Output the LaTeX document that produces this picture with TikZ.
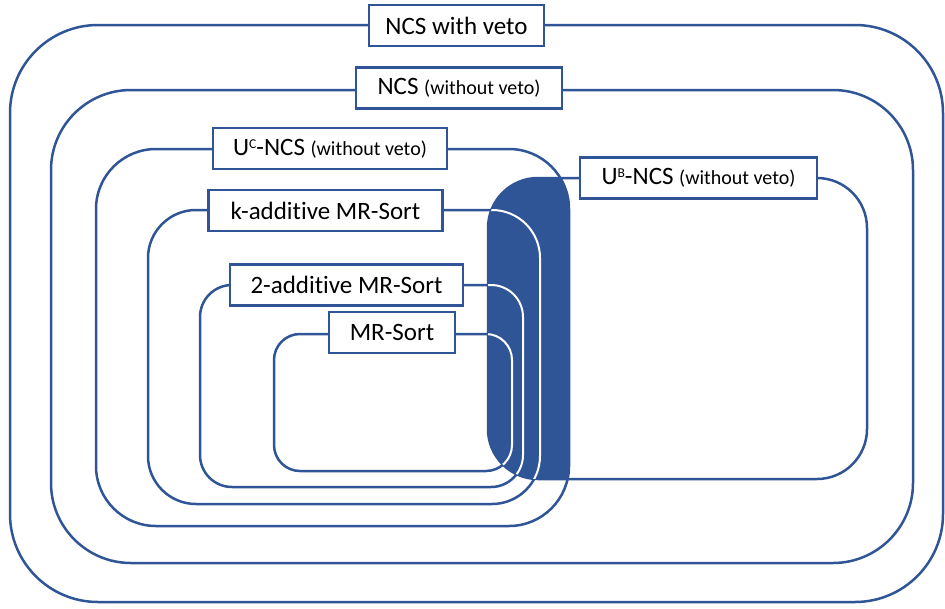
\documentclass[tikz,border=0pt]{standalone}
\usepackage{fontspec}
\setmainfont{Carlito}[Ligatures=NoCommon]
\usetikzlibrary{positioning}
\definecolor{ncsblue}{HTML}{2F5597}
\newcommand{\upidx}[1]{\raisebox{6.8pt}{\fontsize{13.5}{14}\selectfont #1}}
\newcommand{\wv}{{\fontsize{20}{22}\selectfont (without veto)}}

\begin{document}
\begin{tikzpicture}[x=1pt, y=-1pt,
    region/.style={draw=ncsblue, line width=2.5pt},
    lbl/.style={draw=ncsblue, fill=white, line width=2.5pt, inner sep=0pt,
        minimum height=41pt, minimum width=#1, font=\fontsize{25}{28}\selectfont}]
    \useasboundingbox (0,0) rectangle (945,608);

    \draw[region, rounded corners=88pt] (10,25) rectangle (943,602);
    \draw[region, rounded corners=80pt] (51,90) rectangle (913,563);
    \draw[region, rounded corners=60pt] (96,149) rectangle (569,526);
    \draw[region, rounded corners=48pt] (148,210) rectangle (540,504);
    \draw[region, rounded corners=32pt] (200,285) rectangle (523,487);
    \draw[region, rounded corners=26pt] (274,334) rectangle (512,471);
    \draw[region, rounded corners=50pt] (488,178) rectangle (867,479);

    % overlap of U^C and U^B
    \begin{scope}
        \clip[rounded corners=60pt] (96,149) rectangle (569,526);
        \fill[ncsblue, rounded corners=50pt] (488,178) rectangle (867,479);
    \end{scope}
    \begin{scope}
        \clip[rounded corners=60pt] (96,149) rectangle (569,526);
        \clip[rounded corners=50pt] (488,178) rectangle (867,479);
        \draw[region, draw=white, line width=2pt, rounded corners=48pt] (148,210) rectangle (540,504);
        \draw[region, draw=white, line width=2pt, rounded corners=32pt] (200,285) rectangle (523,487);
        \draw[region, draw=white, line width=2pt, rounded corners=26pt] (274,334) rectangle (512,471);
    \end{scope}

    \node[lbl=175pt] (veto) at (456.5,25.5) {NCS with veto};
    \node[lbl=206pt] (ncs) at (459,88) {NCS \wv};
    \node[lbl=234pt] (uc) at (330,148.5) {U\upidx{C}-NCS \wv};
    \node[lbl=234pt] (kadd) at (325.5,210.5) {k-additive MR-Sort};
    \node[lbl=233pt] (twoadd) at (346.5,285) {2-additive MR-Sort};
    \node[lbl=126pt] (mr) at (392,332.5) {MR-Sort};
    \node[lbl=237pt] (ub) at (698.5,178) {U\upidx{B}-NCS \wv};
\end{tikzpicture}
\end{document}
